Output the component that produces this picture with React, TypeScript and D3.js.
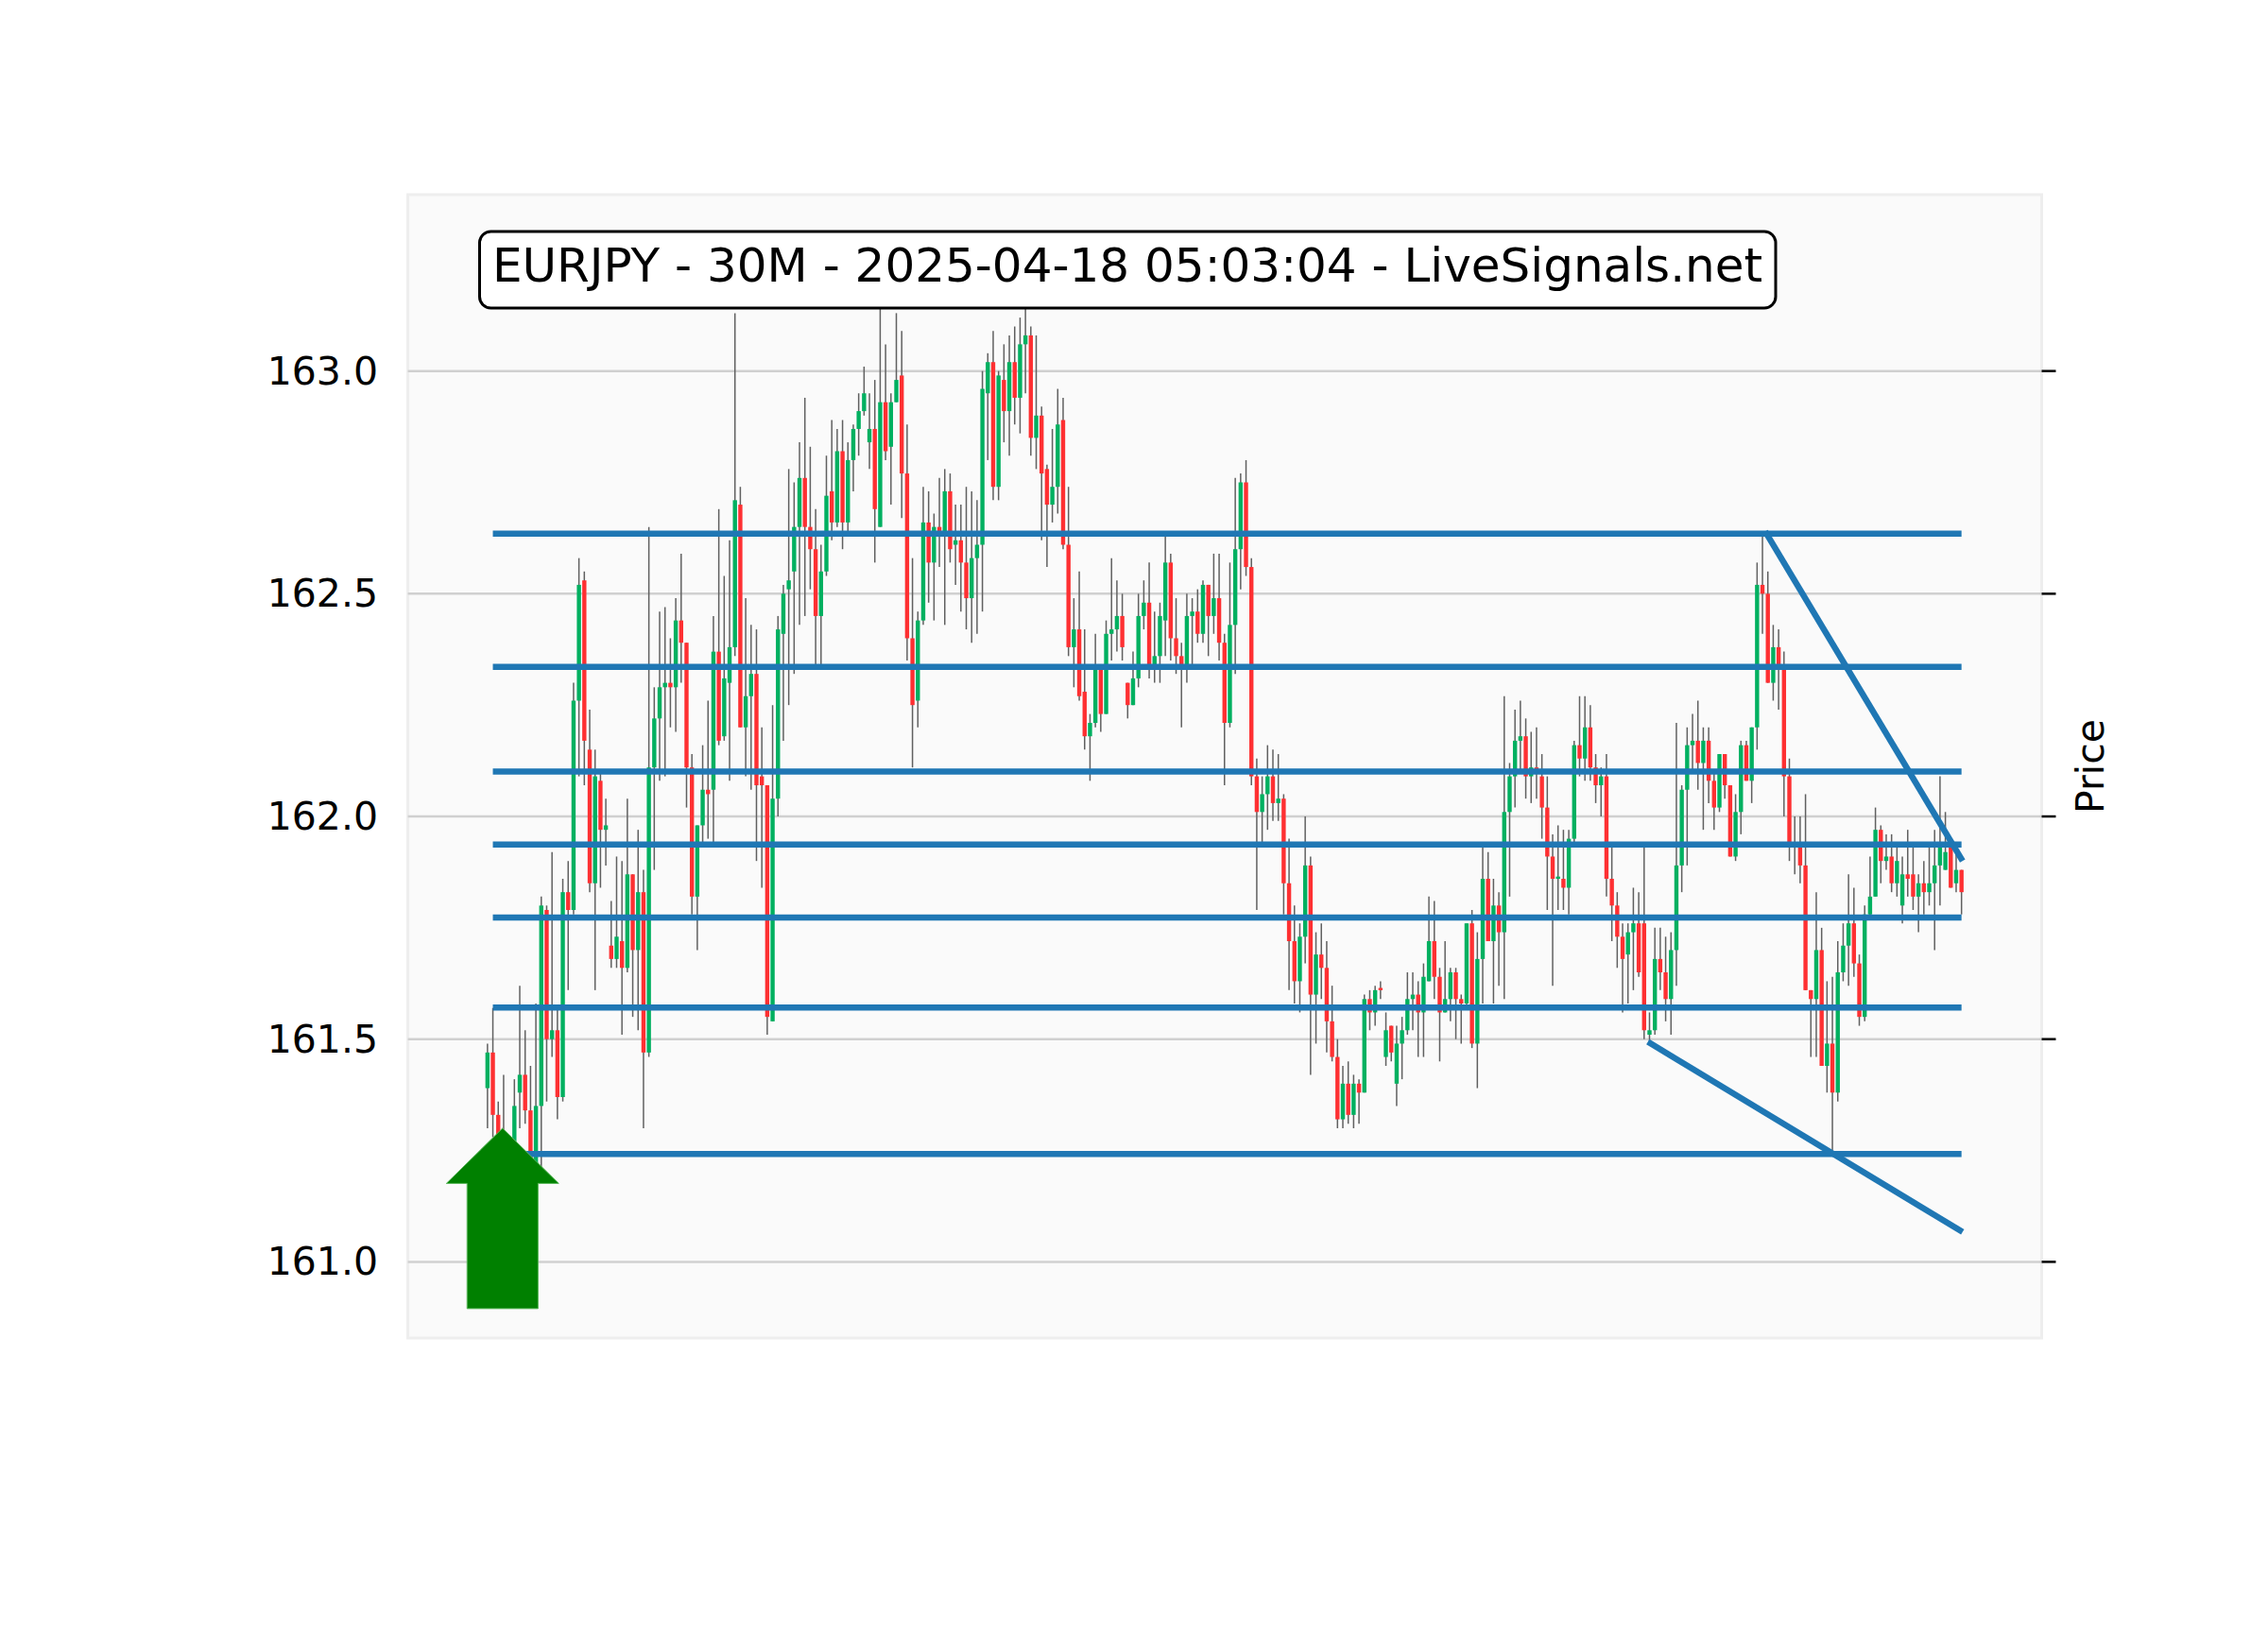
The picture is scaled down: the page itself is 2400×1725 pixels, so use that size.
import React from "react";
import * as d3 from "d3";

// ---------- data ----------
const opens = [161.39,161.47,161.33,161.27,161.22,161.24,161.38,161.42,161.34,161.20,161.35,161.79,161.50,161.52,161.37,161.83,161.79,162.26,162.53,162.15,161.85,162.08,161.97,161.71,161.68,161.72,161.66,161.87,161.70,161.83,161.47,162.11,162.22,162.29,162.30,162.29,162.44,162.39,162.11,161.82,161.98,162.06,162.06,162.37,162.18,162.30,162.38,162.70,162.20,162.27,162.32,162.09,162.07,161.54,162.04,162.41,162.51,162.55,162.65,162.76,162.65,162.60,162.45,162.55,162.73,162.66,162.82,162.66,162.80,162.87,162.91,162.84,162.87,162.65,162.93,162.83,162.93,162.99,162.77,162.40,162.26,162.44,162.66,162.57,162.65,162.64,162.73,162.61,162.62,162.57,162.49,162.58,162.61,162.95,163.02,162.74,162.98,162.91,163.02,162.94,163.06,163.08,162.85,162.90,162.78,162.70,162.74,162.89,162.61,162.38,162.42,162.28,162.18,162.21,162.33,162.23,162.41,162.42,162.45,162.30,162.25,162.31,162.45,162.48,162.34,162.36,162.44,162.57,162.40,162.36,162.34,162.45,162.46,162.41,162.52,162.45,162.49,162.39,162.21,162.43,162.60,162.75,162.56,162.09,162.01,162.05,162.09,162.03,162.04,161.85,161.72,161.63,161.73,161.89,161.60,161.69,161.66,161.54,161.46,161.32,161.40,161.33,161.40,161.38,161.59,161.56,161.615,161.46,161.53,161.40,161.49,161.52,161.59,161.60,161.56,161.63,161.72,161.64,161.56,161.59,161.65,161.59,161.58,161.76,161.49,161.68,161.86,161.72,161.80,161.74,162.01,162.09,162.17,162.18,162.09,162.11,162.09,162.02,161.91,161.86,161.86,161.84,161.95,162.16,162.13,162.20,162.11,162.07,162.09,161.86,161.80,161.73,161.69,161.74,161.76,161.76,161.51,161.52,161.68,161.65,161.59,161.70,161.89,162.06,162.16,162.17,162.12,162.17,162.08,162.02,162.14,162.07,161.91,162.01,162.16,162.08,162.20,162.52,162.50,162.30,162.38,162.33,162.09,161.94,161.93,161.89,161.61,161.59,161.70,161.44,161.49,161.38,161.65,161.71,161.76,161.67,161.55,161.78,161.82,161.97,161.90,161.91,161.85,161.80,161.87,161.87,161.82,161.85,161.83,161.85,161.89,161.88,161.93,161.85,161.88];
const highs = [161.49,161.57,161.36,161.42,161.28,161.41,161.62,161.52,161.44,161.58,161.82,161.80,161.92,161.57,161.86,161.90,162.30,162.58,162.55,162.24,162.15,162.10,162.04,161.81,161.91,161.90,162.04,161.87,161.97,161.88,162.65,162.29,162.46,162.47,162.40,162.49,162.59,162.39,162.14,161.98,162.16,162.26,162.45,162.69,162.54,162.62,163.13,162.74,162.49,162.43,162.42,162.20,162.07,162.25,162.45,162.52,162.78,162.75,162.84,162.94,162.83,162.69,162.61,162.81,162.89,162.87,162.89,162.84,162.88,162.95,163.01,162.95,162.98,163.14,163.06,162.95,163.13,163.09,162.88,162.58,162.46,162.74,162.73,162.68,162.76,162.78,162.77,162.70,162.70,162.74,162.73,162.71,163.00,163.04,163.09,163.00,163.06,163.08,163.10,163.12,163.15,163.10,163.08,162.92,162.79,162.87,162.96,162.94,162.74,162.49,162.55,162.42,162.23,162.41,162.33,162.44,162.58,162.53,162.50,162.30,162.37,162.50,162.53,162.57,162.46,162.48,162.63,162.59,162.49,162.39,162.50,162.49,162.51,162.53,162.52,162.59,162.59,162.41,162.57,162.76,162.77,162.80,162.58,162.13,162.09,162.16,162.15,162.14,162.05,161.95,161.80,161.76,162.00,161.91,161.74,161.76,161.72,161.62,161.50,161.44,161.45,161.42,161.41,161.60,161.61,161.62,161.63,161.56,161.53,161.53,161.55,161.65,161.65,161.63,161.67,161.82,161.81,161.66,161.72,161.66,161.66,161.60,161.76,161.79,161.74,161.93,161.92,161.86,161.83,162.27,162.12,162.24,162.26,162.22,162.19,162.20,162.14,162.09,161.96,161.98,161.97,161.97,162.17,162.27,162.27,162.25,162.14,162.11,162.14,161.94,161.83,161.76,161.76,161.84,161.83,161.93,161.56,161.75,161.75,161.73,161.74,162.21,162.07,162.20,162.23,162.26,162.20,162.20,162.10,162.14,162.14,162.07,162.05,162.17,162.17,162.20,162.57,162.64,162.55,162.43,162.42,162.37,162.13,162.00,162.00,162.05,161.61,161.83,161.75,161.63,161.64,161.72,161.76,161.87,161.84,161.69,161.80,161.91,162.02,161.98,161.96,161.96,161.93,161.91,161.97,161.93,161.87,161.90,161.93,161.97,162.09,162.01,161.94,161.93,161.88];
const lows = [161.30,161.28,161.24,161.18,161.14,161.20,161.30,161.31,161.18,161.12,161.21,161.36,161.46,161.32,161.36,161.61,161.78,162.09,162.07,161.83,161.61,161.84,161.89,161.66,161.66,161.51,161.65,161.55,161.52,161.30,161.46,161.88,162.08,162.09,162.20,162.19,162.30,162.02,161.78,161.70,161.94,161.95,161.94,162.16,162.17,162.08,162.36,162.20,162.09,162.06,161.90,161.84,161.51,161.54,162.00,162.17,162.25,162.32,162.43,162.45,162.51,162.34,162.34,162.54,162.62,162.65,162.60,162.64,162.73,162.81,162.90,162.78,162.57,162.65,162.80,162.70,162.93,162.67,162.35,162.11,162.20,162.43,162.48,162.44,162.56,162.43,162.57,162.52,162.46,162.42,162.39,162.41,162.46,162.80,162.71,162.71,162.84,162.81,162.88,162.86,162.95,162.81,162.78,162.62,162.56,162.66,162.68,162.60,162.36,162.29,162.26,162.15,162.08,162.20,162.19,162.23,162.35,162.37,162.35,162.22,162.25,162.29,162.42,162.31,162.30,162.30,162.36,162.35,162.32,162.20,162.30,162.34,162.39,162.39,162.36,162.41,162.35,162.07,162.20,162.32,162.51,162.54,162.07,161.79,161.94,161.97,161.99,161.99,161.78,161.61,161.58,161.56,161.67,161.42,161.49,161.59,161.47,161.45,161.30,161.30,161.31,161.30,161.31,161.38,161.52,161.53,161.59,161.44,161.45,161.35,161.41,161.51,161.52,161.46,161.46,161.63,161.59,161.45,161.56,161.54,161.50,161.49,161.57,161.48,161.39,161.58,161.72,161.58,161.62,161.59,161.82,162.02,162.10,162.04,162.03,162.04,161.95,161.79,161.62,161.79,161.79,161.78,161.94,162.09,162.08,162.08,162.03,162.00,161.82,161.72,161.66,161.56,161.58,161.61,161.64,161.50,161.49,161.51,161.61,161.54,161.51,161.62,161.83,161.89,162.10,162.06,161.97,162.03,161.97,162.01,162.04,161.91,161.90,161.96,162.08,162.03,162.15,162.41,162.30,162.26,162.24,162.00,161.90,161.87,161.85,161.61,161.46,161.46,161.44,161.38,161.25,161.36,161.63,161.62,161.64,161.53,161.54,161.77,161.82,161.85,161.88,161.83,161.82,161.76,161.82,161.79,161.74,161.78,161.80,161.70,161.80,161.88,161.84,161.83,161.78];
const closes = [161.47,161.33,161.27,161.22,161.24,161.35,161.42,161.34,161.22,161.35,161.80,161.50,161.52,161.37,161.83,161.79,162.26,162.52,162.17,161.85,162.09,161.97,161.98,161.68,161.73,161.66,161.87,161.70,161.83,161.47,162.11,162.22,162.29,162.30,162.29,162.44,162.39,162.11,161.82,161.98,162.06,162.05,162.37,162.17,162.31,162.38,162.71,162.20,162.27,162.32,162.07,162.07,161.55,162.04,162.42,162.50,162.53,162.65,162.76,162.65,162.60,162.45,162.55,162.72,162.66,162.82,162.66,162.80,162.87,162.91,162.95,162.87,162.69,162.93,162.82,162.93,162.98,162.77,162.40,162.25,162.44,162.66,162.57,162.65,162.64,162.73,162.60,162.62,162.57,162.49,162.58,162.61,162.96,163.02,162.74,162.99,162.91,163.02,162.94,163.06,163.08,162.85,162.90,162.77,162.70,162.74,162.88,162.61,162.38,162.42,162.27,162.18,162.21,162.33,162.23,162.41,162.42,162.45,162.38,162.25,162.31,162.45,162.48,162.34,162.36,162.45,162.57,162.40,162.36,162.34,162.45,162.46,162.41,162.52,162.45,162.49,162.39,162.21,162.43,162.60,162.75,162.56,162.09,162.01,162.05,162.09,162.03,162.04,161.85,161.72,161.63,161.73,161.89,161.60,161.69,161.66,161.54,161.46,161.32,161.40,161.33,161.40,161.38,161.59,161.56,161.61,161.61,161.52,161.47,161.49,161.52,161.59,161.60,161.56,161.64,161.72,161.64,161.56,161.59,161.65,161.59,161.58,161.76,161.49,161.68,161.86,161.72,161.80,161.74,162.01,162.09,162.17,162.18,162.09,162.11,162.10,162.02,161.91,161.86,161.865,161.84,161.95,162.16,162.13,162.20,162.11,162.07,162.09,161.86,161.80,161.73,161.68,161.74,161.76,161.65,161.52,161.52,161.68,161.65,161.59,161.70,161.89,162.06,162.16,162.17,162.12,162.17,162.08,162.02,162.14,162.07,161.91,162.01,162.16,162.08,162.20,162.52,162.50,162.30,162.38,162.34,162.09,161.94,161.93,161.89,161.61,161.59,161.70,161.44,161.49,161.38,161.65,161.71,161.76,161.67,161.55,161.78,161.82,161.97,161.90,161.91,161.85,161.90,161.87,161.86,161.82,161.85,161.83,161.85,161.89,161.93,161.92,161.84,161.88,161.83];

const levels = [162.635, 162.336, 162.101, 161.937, 161.773, 161.571, 161.242];
const levelStart = 1;
const trendStartIdx = [237.5, 215.7];
const trendStartPrice = [162.64, 161.494];
const trendEndIdx = [274.2, 274.2];
const trendEndPrice = [161.90, 161.067];
const yTicks = [161.0, 161.5, 162.0, 162.5, 163.0];
const arrowIdx = 2.8;
const arrowBase = 160.895;
const arrowHeadBase = 161.176;
const arrowTip = 161.30;
const arrowShaftHalf = 6.6;
const arrowHeadHalf = 10.45;
const title = "EURJPY - 30M - 2025-04-18 05:03:04 - LiveSignals.net";

const W = 2400, H = 1725;
const PL = 431.6, PR = 2160.5, PT = 206, PB = 1416;
const FONT = "'DejaVu Sans', sans-serif";
const UP = "#00b060", DOWN = "#fe3032", WICK = "#606060", BLUE = "#1f77b4";

export default function App() {
  const n = opens.length;
  const x = d3.scaleLinear().domain([-14.8, n - 1 + 14.9]).range([PL, PR]);
  const y = d3.scaleLinear().domain([160.829, 163.396]).range([PB, PT]);
  const bw = 4.4;
  const arrowPts: [number, number][] = [
    [x(arrowIdx - arrowShaftHalf), y(arrowBase)],
    [x(arrowIdx - arrowShaftHalf), y(arrowHeadBase)],
    [x(arrowIdx - arrowHeadHalf), y(arrowHeadBase)],
    [x(arrowIdx), y(arrowTip)],
    [x(arrowIdx + arrowHeadHalf), y(arrowHeadBase)],
    [x(arrowIdx + arrowShaftHalf), y(arrowHeadBase)],
    [x(arrowIdx + arrowShaftHalf), y(arrowBase)],
  ];
  const line = d3.line();
  return (
    <svg width={W} height={H} style={{ position: "absolute", left: 0, top: 0, background: "#fff" }} fontFamily={FONT}>
      <rect x={0} y={0} width={W} height={H} fill="#ffffff" />
      <rect x={PL} y={PT} width={PR - PL} height={PB - PT} fill="#fafafa" stroke="#eeeeee" strokeWidth={3} />
      {yTicks.map((t) => (
        <g key={t}>
          <line x1={PL} x2={PR} y1={y(t)} y2={y(t)} stroke="#d0d0d0" strokeWidth={2.5} />
          <line x1={PR} x2={PR + 15} y1={y(t)} y2={y(t)} stroke="#000" strokeWidth={2.5} />
          <text x={400} y={y(t)} textAnchor="end" dominantBaseline="central" fontSize={41} fill="#000">
            {t.toFixed(1)}
          </text>
        </g>
      ))}
      <text x={2212} y={(PT + PB) / 2} transform={`rotate(-90 2212 ${(PT + PB) / 2})`} textAnchor="middle" dominantBaseline="central" fontSize={41} fill="#000">
        Price
      </text>
      {opens.map((o, i) => {
        const c = closes[i];
        const up = c >= o;
        const top = y(Math.max(o, c));
        const bot = y(Math.min(o, c));
        return (
          <g key={i}>
            <line x1={x(i)} x2={x(i)} y1={y(highs[i])} y2={y(lows[i])} stroke={WICK} strokeWidth={1.5} />
            <rect x={x(i) - bw / 2} y={top} width={bw} height={Math.max(bot - top, 1.5)} fill={up ? UP : DOWN} />
          </g>
        );
      })}
      {levels.map((lv) => (
        <line key={lv} x1={x(levelStart)} x2={x(n - 1)} y1={y(lv)} y2={y(lv)} stroke={BLUE} strokeWidth={6.5} />
      ))}
      {trendStartIdx.map((s, k) => (
        <line key={k} x1={x(s)} y1={y(trendStartPrice[k])} x2={x(trendEndIdx[k])} y2={y(trendEndPrice[k])} stroke={BLUE} strokeWidth={6.5} />
      ))}
      <path d={line(arrowPts) + "Z"} fill="#008000" stroke="#5cb85c" strokeWidth={1} />
      <rect x={507.5} y={245} width={1371.5} height={81} rx={12} fill="#ffffff" stroke="#000" strokeWidth={3} />
      <text x={1193} y={298} textAnchor="middle" fontSize={50} fill="#000">
        {title}
      </text>
    </svg>
  );
}
